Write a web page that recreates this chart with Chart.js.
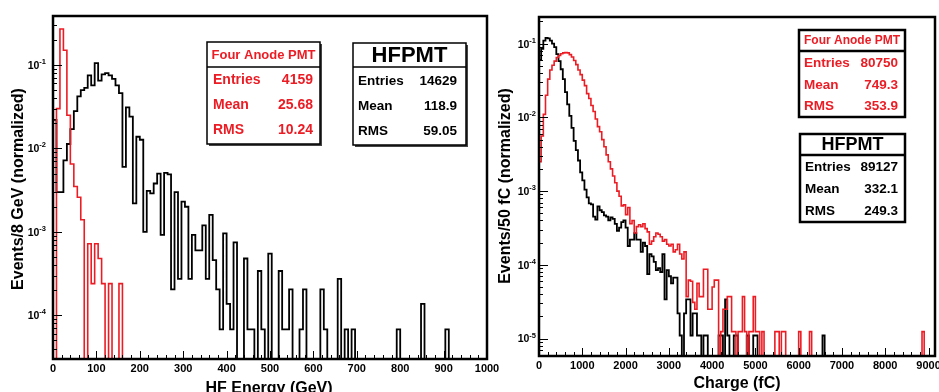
<!DOCTYPE html>
<html>
<head>
<meta charset="utf-8">
<script src="https://cdn.jsdelivr.net/npm/chart.js@4.4.1/dist/chart.umd.min.js"></script>
<style>
  body { margin: 0; background: #fff; width: 939px; height: 392px; overflow: hidden; position: relative; }
  canvas { position: absolute; left: 0; top: 0; }
</style>
</head>
<body>
<canvas id="hfEnergy" width="939" height="392"></canvas>
<canvas id="hfCharge" width="939" height="392"></canvas>
<script>
// ---- data (normalized events per bin) ----
var energyBinWidth = 8;    // GeV
var chargeBinWidth = 50;   // fC

// HF energy, HFPMT (black), bins of 8 GeV starting at 0
var energyHFPMT = [
  0.022, 0.003, 0.003, 0.0072, 0.0113, 0.017, 0.028, 0.042, 0.05, 0.053,
  0.075, 0.057, 0.105, 0.065, 0.077, 0.08, 0.075, 0.068, 0.057, 0.046,
  0.006, 0.031, 0.024, 0.0022, 0.0138, 0.0127, 0.001, 0.0031, 0.0029, 0.0038,
  0.005, 0.00092, 0.0051, 0.0049, 0.000205, 0.003, 0.000273, 0.0023, 0.002, 0.000273,
  0.00092, 0.0006, 0.0006, 0.0012, 0.000273, 0.0016, 0.00046, 0.000205, 0.000068, 0.00096,
  0.000137, 0.000068, 0.00075, 0, 0, 0.00048, 0.000068, 0.000068, 0, 0.00034,
  0.000068, 0, 0.00055, 0, 0, 0.00034, 0.000068, 0.000068, 0.000205, 0,
  0, 0.000068, 0.000205, 0, 0, 0, 0, 0.000205, 0.000068, 0,
  0, 0, 0.000273, 0, 0.000068, 0, 0.000068, 0, 0, 0,
  0, 0, 0, 0, 0, 0, 0, 0, 0, 0.000068,
  0, 0, 0, 0, 0, 0, 0.000137, 0, 0, 0,
  0, 0, 0, 0.000068
];
// HF energy, Four Anode PMT (red)
var energyFourAnode = [
  0, 0.03, 0.27, 0.15, 0.025, 0.0065, 0.0035, 0.0026, 0.0014, 0,
  0.00072, 0.00024, 0.00072, 0.00048, 0.00024, 0, 0.00024, 0, 0, 0.00024
];

// Charge, HFPMT (black), bins of 50 fC starting at 0
var chargeHFPMT = [
  0.06, 0.085, 0.11, 0.12, 0.118, 0.11, 0.10, 0.09, 0.072, 0.058,
  0.045, 0.033, 0.022, 0.015, 0.0105, 0.0072, 0.0048, 0.0036, 0.0026, 0.0018,
  0.0014, 0.00105, 0.00082, 0.00068, 0.00066, 0.00045, 0.00041, 0.00062, 0.00055, 0.00052,
  0.00047, 0.00045, 0.0004, 0.00044, 0.00042, 0.00036, 0.00029, 0.00032, 0.00038, 0.0004,
  0.00032, 0.00018, 0.00022, 0.00022, 0.00027, 0.00022, 0.00022, 0.00015, 0.0002, 0.00018,
  0.000075, 0.00014, 0.00013, 0.00011, 0.000085, 0.00009, 0.00008, 0.00014, 0.000034, 0.000085,
  0.00007, 0.000056, 0.000067, 0.000067, 0.000022, 0.000011, 0, 0.000022, 0.000034, 0.000034,
  0.000011, 0.000022, 0.000022, 0.000011, 0.000011, 0, 0.000011, 0.000011, 0, 0,
  0, 0, 0, 0.000011, 0.000011, 0, 0.000034, 0.000011, 0, 0,
  0.000011, 0.000011, 0, 0, 0, 0, 0.000011, 0, 0, 0.000011,
  0.000011, 0, 0, 0, 0, 0, 0, 0, 0, 0,
  0, 0, 0, 0, 0, 0, 0, 0, 0, 0,
  0, 0, 0, 0, 0, 0, 0, 0, 0, 0,
  0, 0.000011
];
// Charge, Four Anode PMT (red)
var chargeFourAnode = [
  0.0025, 0.0056, 0.011, 0.02, 0.033, 0.044, 0.051, 0.058, 0.065, 0.069,
  0.073, 0.075, 0.076, 0.075, 0.071, 0.066, 0.059, 0.052, 0.044, 0.038,
  0.032, 0.027, 0.021, 0.018, 0.0145, 0.012, 0.0095, 0.0075, 0.0064, 0.005,
  0.004, 0.0031, 0.0025, 0.002, 0.0016, 0.0013, 0.001, 0.00085, 0.00063, 0.00065,
  0.00048, 0.0006, 0.00036, 0.0004, 0.00027, 0.00033, 0.00035, 0.00033, 0.00036, 0.00031,
  0.00028, 0.00019, 0.00021, 0.00024, 0.00027, 0.00026, 0.00024, 0.00021, 0.00022, 0.00019,
  0.00018, 0.00019, 0.00015, 0.00016, 0.00019, 0.00014, 0.00012, 0.00015, 0.000037, 0.000062,
  0.00006, 0.000031, 0.000025, 0.000056, 0.000037, 0.000037, 0.000087, 0.000087, 0.000025, 0.000025,
  0.00005, 0.000062, 0.000062, 0, 0.0000124, 0.000025, 0.000025, 0.000037, 0.000037, 0.0000124,
  0.0000124, 0, 0.0000124, 0.0000124, 0.000037, 0.0000124, 0, 0.0000124, 0.0000124, 0.000037,
  0.0000124, 0.0000124, 0, 0.0000124, 0, 0, 0, 0, 0, 0.0000124,
  0.0000124, 0, 0.0000124, 0.0000124, 0, 0, 0, 0, 0, 0,
  0.0000124, 0, 0, 0, 0, 0.0000124, 0, 0, 0, 0,
  0, 0, 0, 0, 0, 0, 0, 0, 0, 0,
  0, 0, 0, 0, 0, 0, 0, 0, 0, 0,
  0, 0, 0, 0, 0, 0, 0, 0, 0, 0,
  0, 0, 0, 0, 0, 0, 0, 0, 0, 0,
  0, 0, 0, 0, 0, 0, 0, 0.0000124
];

// stats box texts
var energyRedStats = [['Entries', '4159'], ['Mean', '25.68'], ['RMS', '10.24']];
var energyBlackStats = [['Entries', '14629'], ['Mean', '118.9'], ['RMS', '59.05']];
var chargeRedStats = [['Entries', '80750'], ['Mean', '749.3'], ['RMS', '353.9']];
var chargeBlackStats = [['Entries', '89127'], ['Mean', '332.1'], ['RMS', '249.3']];

var RED = 'rgb(236,28,36)';
var FONT = "'Liberation Sans', Arial, Helvetica, sans-serif";

// histogram outline: value of bin i held from its low edge to the next edge.
// empty bins sit below the axis minimum (log scale can't take 0) and get clipped.
function histPoints(values, width, floor) {
  var pts = values.map(function (v, i) { return { x: i * width, y: v > 0 ? v : floor }; });
  pts.push({ x: values.length * width, y: floor });
  return pts;
}

function seg(ctx, x1, y1, x2, y2) {
  ctx.beginPath(); ctx.moveTo(x1, y1); ctx.lineTo(x2, y2); ctx.stroke();
}

function drawPow(ctx, exp, right, y) {
  ctx.textBaseline = 'middle';
  ctx.textAlign = 'left';
  ctx.font = 'bold 7.5px ' + FONT;
  var we = ctx.measureText(exp).width;
  ctx.font = 'bold 10.5px ' + FONT;
  var wb = ctx.measureText('10').width;
  ctx.fillText('10', right - we - wb, y + 1);
  ctx.font = 'bold 7.5px ' + FONT;
  ctx.fillText(exp, right - we, y - 3);
}

function drawStats(ctx, b) {
  if (b.shadow) {
    ctx.fillStyle = '#444';
    ctx.fillRect(b.x + 2, b.y + 2, b.w, b.h);
  }
  ctx.fillStyle = '#fff';
  ctx.fillRect(b.x, b.y, b.w, b.h);
  ctx.strokeStyle = '#000';
  ctx.lineWidth = b.lw;
  ctx.strokeRect(b.x, b.y, b.w, b.h);
  seg(ctx, b.x, b.divY, b.x + b.w, b.divY);
  ctx.fillStyle = b.color;
  ctx.textBaseline = 'middle';
  ctx.textAlign = 'center';
  ctx.font = b.titleFont;
  ctx.fillText(b.title, b.x + b.w / 2, b.titleY);
  ctx.font = b.rowFont;
  b.rows.forEach(function (r, i) {
    ctx.textAlign = 'left';
    ctx.fillText(r[0], b.x + b.padL, b.rowY[i]);
    ctx.textAlign = 'right';
    ctx.fillText(r[1], b.x + b.w - b.padR, b.rowY[i]);
  });
}

// ROOT-like frame, inner ticks, labels, titles and stat boxes
var rootFrame = {
  id: 'rootFrame',
  afterDraw: function (chart, args, o) {
    var ctx = chart.ctx, a = chart.chartArea;
    var xs = chart.scales.x, ys = chart.scales.y;
    ctx.save();
    ctx.strokeStyle = '#000';
    ctx.fillStyle = '#000';
    ctx.lineWidth = 1;

    // x ticks, pointing up into the frame
    for (var v = 0; v <= xs.max + 1e-6; v += o.xMinor) {
      var px = Math.round(xs.getPixelForValue(v)) + 0.5;
      var major = Math.abs(v / o.xMajor - Math.round(v / o.xMajor)) < 1e-6;
      seg(ctx, px, a.bottom, px, a.bottom - (major ? 8 : 4));
    }
    // y ticks on the log axis
    var e0 = Math.floor(Math.log10(ys.min)), e1 = Math.ceil(Math.log10(ys.max));
    for (var e = e0; e <= e1; e++) {
      for (var m = 1; m < 10; m++) {
        var val = m * Math.pow(10, e);
        if (val < ys.min || val > ys.max) continue;
        var py = Math.round(ys.getPixelForValue(val)) + 0.5;
        seg(ctx, a.left, py, a.left + (m === 1 ? 9 : 4), py);
      }
    }

    // frame
    ctx.lineWidth = 2.5;
    ctx.strokeRect(a.left, a.top, a.right - a.left, a.bottom - a.top);

    // x tick labels
    ctx.font = 'bold 11px ' + FONT;
    ctx.textAlign = 'center';
    ctx.textBaseline = 'middle';
    for (var t = 0; t <= xs.max + 1e-6; t += o.xMajor) {
      ctx.fillText(String(t), xs.getPixelForValue(t), o.xLabelY);
    }
    // y tick labels
    o.yDecades.forEach(function (d) {
      drawPow(ctx, String(d), o.yLabelRight, ys.getPixelForValue(Math.pow(10, d)));
    });

    // axis titles
    ctx.font = 'bold 16px ' + FONT;
    ctx.textAlign = 'center';
    ctx.textBaseline = 'alphabetic';
    ctx.fillText(o.xTitle, o.xTitleX, o.xTitleY);
    ctx.save();
    ctx.translate(o.yTitleX, o.yTitleY);
    ctx.rotate(-Math.PI / 2);
    ctx.textBaseline = 'middle';
    ctx.fillText(o.yTitle, 0, 0);
    ctx.restore();

    o.boxes.forEach(function (b) { drawStats(ctx, b); });
    ctx.restore();
  }
};

function makeHist(id, cfg) {
  var floor = cfg.yMin / 10;
  return new Chart(document.getElementById(id), {
    type: 'line',
    data: {
      datasets: [
        { data: histPoints(cfg.red, cfg.binWidth, floor), borderColor: RED, borderWidth: 1.6,
          stepped: 'before', pointRadius: 0, fill: false },
        { data: histPoints(cfg.black, cfg.binWidth, floor), borderColor: '#000', borderWidth: 1.8,
          stepped: 'before', pointRadius: 0, fill: false }
      ]
    },
    options: {
      responsive: false,
      animation: false,
      layout: { padding: cfg.padding },
      plugins: { legend: { display: false }, tooltip: { enabled: false }, rootFrame: cfg.frame },
      scales: {
        x: { type: 'linear', display: false, min: 0, max: cfg.xMax },
        y: { type: 'logarithmic', display: false, min: cfg.yMin, max: cfg.yMax }
      }
    },
    plugins: [rootFrame]
  });
}

makeHist('hfEnergy', {
  black: energyHFPMT, red: energyFourAnode, binWidth: energyBinWidth,
  xMax: 1000, yMin: 3.0e-5, yMax: 0.386,
  padding: { left: 53, top: 16, right: 452, bottom: 33 },
  frame: {
    xMajor: 100, xMinor: 20, xLabelY: 369, yLabelRight: 46, yDecades: [-1, -2, -3, -4],
    xTitle: 'HF Energy (GeV)', xTitleX: 269, xTitleY: 393,
    yTitle: 'Events/8 GeV (normalized)', yTitleX: 19, yTitleY: 189,
    boxes: [
      { x: 207, y: 42, w: 113, h: 102, divY: 67, lw: 1.5, shadow: true, color: RED,
        title: 'Four Anode PMT', titleFont: 'bold 13px ' + FONT, titleY: 55,
        rowFont: 'bold 14px ' + FONT, rows: energyRedStats, rowY: [80, 105, 130], padL: 6, padR: 7 },
      { x: 353, y: 43, w: 113, h: 102, divY: 67, lw: 1.5, shadow: true, color: '#000',
        title: 'HFPMT', titleFont: 'bold 22px ' + FONT, titleY: 56,
        rowFont: 'bold 13.5px ' + FONT, rows: energyBlackStats, rowY: [81, 106, 131], padL: 5, padR: 9 }
    ]
  }
});

makeHist('hfCharge', {
  black: chargeHFPMT, red: chargeFourAnode, binWidth: chargeBinWidth,
  xMax: 9150, yMin: 5.8e-6, yMax: 0.23,
  padding: { left: 539, top: 17, right: 4, bottom: 36 },
  frame: {
    xMajor: 1000, xMinor: 200, xLabelY: 366, yLabelRight: 536, yDecades: [-1, -2, -3, -4, -5],
    xTitle: 'Charge (fC)', xTitleX: 737, xTitleY: 388,
    yTitle: 'Events/50 fC (normalized)', yTitleX: 506, yTitleY: 186,
    boxes: [
      { x: 799, y: 30, w: 106, h: 87, divY: 51, lw: 2.5, shadow: false, color: RED,
        title: 'Four Anode PMT', titleFont: 'bold 12px ' + FONT, titleY: 41,
        rowFont: 'bold 13.5px ' + FONT, rows: chargeRedStats, rowY: [63, 85, 106.5], padL: 5, padR: 7 },
      { x: 800, y: 134, w: 105, h: 88, divY: 155, lw: 2.5, shadow: false, color: '#000',
        title: 'HFPMT', titleFont: 'bold 18px ' + FONT, titleY: 145.5,
        rowFont: 'bold 13.5px ' + FONT, rows: chargeBlackStats, rowY: [167, 189, 211], padL: 5, padR: 7 }
    ]
  }
});
</script>
</body>
</html>
